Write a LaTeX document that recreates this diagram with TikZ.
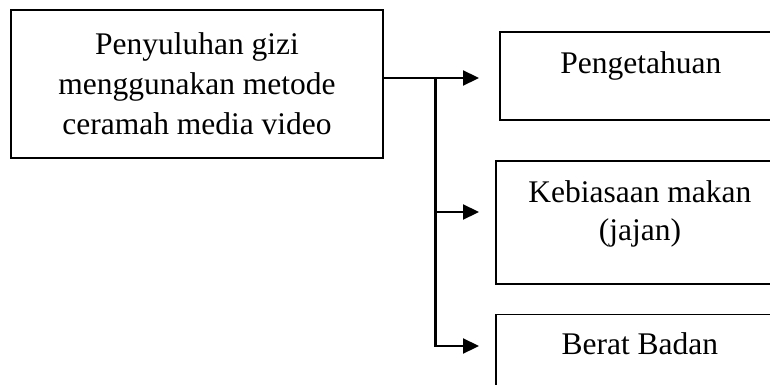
\documentclass[tikz,border=0pt]{standalone}
\usepackage{fontspec}
\setmainfont{Liberation Serif}
\usetikzlibrary{arrows.meta, positioning}

\begin{document}
\begin{tikzpicture}[
    x=1pt, y=-1pt,
    kotak/.style={
      rectangle, draw=black, line width=1.8pt,
      inner sep=0pt, align=center,
      font=\fontsize{31.5pt}{40pt}\selectfont
    },
    panah/.style={-{Triangle[length=16pt, width=15pt]}, line width=2.2pt},
    garis/.style={line width=2.2pt},
  ]
  \useasboundingbox (0,0) rectangle (770,385);
  \clip (0,0) rectangle (770,385);

  \node[kotak, minimum width=372pt, minimum height=148pt] (src) at (197,84) {
    Penyuluhan gizi\\
    menggunakan metode\\
    ceramah media video
  };

  \node[kotak, anchor=north west, minimum width=282pt,
        text height=42pt, text depth=46pt] (peng) at (499,31) {Pengetahuan};

  \node[kotak, below=39pt of peng.south west, anchor=north west, xshift=-4pt,
        minimum width=288pt, text height=80pt, text depth=43pt,
        font=\fontsize{31.5pt}{38pt}\selectfont] (kebiasaan) {
    Kebiasaan makan\\
    (jajan)
  };

  \node[kotak, below=29pt of kebiasaan.south west, anchor=north west,
        minimum width=288pt, text height=40pt, text depth=70pt] (berat) {Berat Badan};

  \coordinate (jn) at (435.5,78);
  \coordinate (u1) at (479,78);
  \coordinate (u2) at (479,212);
  \coordinate (u3) at (479,346);

  \draw[garis] (src.east |- jn) -- (jn);
  \draw[panah] (jn) -- (u1);
  \draw[panah] (jn) |- (u2);
  \draw[panah] (jn) |- (u3);
\end{tikzpicture}
\end{document}
